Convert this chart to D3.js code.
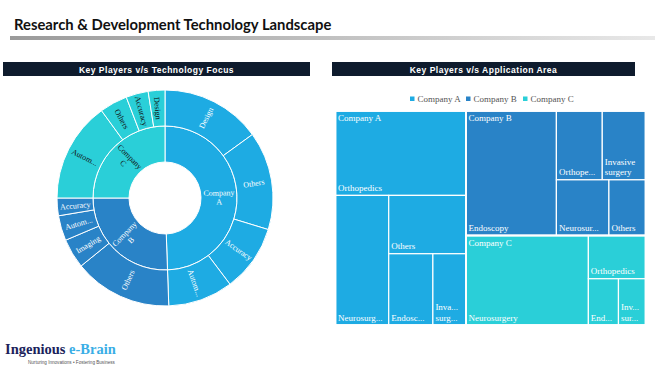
<!DOCTYPE html>
<html>
<head>
<meta charset="utf-8">
<script src="https://cdn.jsdelivr.net/npm/d3@7"></script>
<style>
  body { margin: 0; background: #fff; }
</style>
</head>
<body>
<div id="chart"></div>
<script>
// ---------------------------------------------------------------
// data
var companies = ["Company A", "Company B", "Company C"];
var companyColors = ["#1eabe3", "#2983c7", "#2acfd8"];

// sunburst: technology focus per company (share of the ring)
var techNamesA = ["Design", "Others", "Accuracy", "Automation"];
var techShareA = [54, 53, 36, 35];
var techNamesB = ["Others", "Imaging", "Automation", "Accuracy"];
var techShareB = [53, 16, 13.5, 9.5];
var techNamesC = ["Automation", "Others", "Accuracy", "Design"];
var techShareC = [54, 15, 12, 9];

// treemap: application area per company
var appNamesA = ["Orthopedics", "Neurosurgery", "Others", "Endoscopy", "Invasive surgery"];
var appValuesA = [10920, 6840, 4470, 3120, 2340];
var appNamesB = ["Endoscopy", "Orthopedics", "Invasive surgery", "Neurosurgery", "Others"];
var appValuesB = [11160, 3130, 2950, 2900, 2020];
var appNamesC = ["Neurosurgery", "Orthopedics", "Endoscopy", "Invasive surgery"];
var appValuesC = [10860, 2450, 1380, 1240];

// ---------------------------------------------------------------
var svgWidth = 655;
var svgHeight = 369;

var svg = d3.select("#chart")
    .append("svg")
    .attr("width", svgWidth)
    .attr("height", svgHeight)
    .style("display", "block");

var serif = "'Liberation Serif', 'Times New Roman', serif";

// text measuring for truncation
var measureCtx = document.createElement("canvas").getContext("2d");
function textWidth(s, size) {
    measureCtx.font = size + "px " + serif;
    return measureCtx.measureText(s).width;
}
function truncate(s, maxW, size) {
    if (textWidth(s, size) <= maxW) return s;
    var t = s;
    while (t.length > 1 && textWidth(t + "...", size) > maxW) t = t.slice(0, -1);
    return t + "...";
}
function fitLines(name, maxW, size) {
    if (textWidth(name, size) <= maxW) return [name];
    return name.split(" ").map(w => truncate(w, maxW, size));
}

// ---------------------------------------------------------------
// page title
svg.append("text")
    .attr("x", 14)
    .attr("y", 30)
    .style("font", "bold 14.8px Lato, 'Open Sans', sans-serif")
    .attr("fill", "#111")
    .text("Research & Development Technology Landscape");

var grad = svg.append("defs").append("linearGradient")
    .attr("id", "titleLine");
grad.append("stop").attr("offset", "0%").attr("stop-color", "#9a9a9a");
grad.append("stop").attr("offset", "100%").attr("stop-color", "#e8e8e8");

svg.append("rect")
    .attr("x", 10).attr("y", 36)
    .attr("width", 645).attr("height", 4)
    .attr("fill", "url(#titleLine)");

// panel headers
var headers = [
    { x: 3, w: 307, label: "Key Players v/s Technology Focus" },
    { x: 332, w: 303, label: "Key Players v/s Application Area" }
];
headers.forEach(function (h) {
    svg.append("rect")
        .attr("x", h.x).attr("y", 62)
        .attr("width", h.w).attr("height", 14)
        .attr("fill", "#0e1b2d");
    svg.append("text")
        .attr("x", h.x + h.w / 2)
        .attr("y", 72.5)
        .attr("text-anchor", "middle")
        .attr("fill", "#fff")
        .style("font", "bold 8.5px 'Liberation Sans', Arial, sans-serif")
        .style("letter-spacing", "0.5px")
        .text(h.label);
});

// ---------------------------------------------------------------
// sunburst
var techNames = [techNamesA, techNamesB, techNamesC];
var techShares = [techShareA, techShareB, techShareC];

var sunData = {
    name: "root",
    children: companies.map((c, i) => ({
        name: c,
        company: i,
        children: techNames[i].map((n, j) => ({ name: n, company: i, value: techShares[i][j] }))
    }))
};

var sunRoot = d3.hierarchy(sunData)
    .sum(d => d.value || 0)
    .sort((a, b) => b.value - a.value);

d3.partition().size([2 * Math.PI, 3])(sunRoot);

var radius = d3.scaleLinear().domain([1, 3]).range([36, 108]);

var arc = d3.arc()
    .startAngle(d => d.x0)
    .endAngle(d => d.x1)
    .innerRadius(d => radius(d.y0))
    .outerRadius(d => radius(d.y1));

var sun = svg.append("g")
    .attr("transform", "translate(165, 198)");

var sunNodes = sunRoot.descendants().filter(d => d.depth > 0);

sun.selectAll("path")
    .data(sunNodes)
    .enter().append("path")
    .attr("d", arc)
    .attr("fill", d => companyColors[d.data.company])
    .attr("stroke", "#fff")
    .attr("stroke-width", 1);

sunNodes.forEach(function (d) {
    var a = (d.x0 + d.x1) / 2;
    var deg = a * 180 / Math.PI;
    var r = radius((d.y0 + d.y1) / 2);
    var rot = deg < 180 ? deg - 90 : deg - 270;
    var maxW = d.depth === 1 ? 32 : 31;
    var lines = fitLines(d.data.name, maxW, 8);
    var t = sun.append("text")
        .attr("transform", "translate(" + (r * Math.sin(a)) + "," + (-r * Math.cos(a)) + ") rotate(" + rot + ")")
        .attr("text-anchor", "middle")
        .attr("dominant-baseline", "central")
        .attr("fill", d.data.company === 2 ? "#111" : "#fff")
        .style("font", "8px " + serif);
    lines.forEach(function (l, i) {
        t.append("tspan")
            .attr("x", 0)
            .attr("y", (i - (lines.length - 1) / 2) * 9)
            .text(l);
    });
});

// ---------------------------------------------------------------
// treemap
var appNames = [appNamesA, appNamesB, appNamesC];
var appValues = [appValuesA, appValuesB, appValuesC];

// legend
var legend = svg.append("g");
var legendX = [410, 466, 523];
companies.forEach(function (c, i) {
    legend.append("rect")
        .attr("x", legendX[i]).attr("y", 96.5)
        .attr("width", 4.5).attr("height", 4.5)
        .attr("fill", companyColors[i]);
    legend.append("text")
        .attr("x", legendX[i] + 7.5).attr("y", 102)
        .attr("fill", "#555")
        .style("font", "9px " + serif)
        .text(c);
});

var treeData = {
    name: "root",
    children: companies.map((c, i) => ({
        name: c,
        company: i,
        children: appNames[i].map((n, j) => ({ name: n, company: i, value: appValues[i][j] }))
    }))
};

var treeRoot = d3.hierarchy(treeData)
    .sum(d => d.value || 0)
    .sort((a, b) => b.value - a.value);

d3.treemap()
    .tile(d3.treemapBinary)
    .size([310, 214])(treeRoot);

var tree = svg.append("g")
    .attr("transform", "translate(335.5, 111)");

tree.selectAll("rect.leaf")
    .data(treeRoot.leaves())
    .enter().append("rect")
    .attr("class", "leaf")
    .attr("x", d => d.x0)
    .attr("y", d => d.y0)
    .attr("width", d => d.x1 - d.x0)
    .attr("height", d => d.y1 - d.y0)
    .attr("fill", d => companyColors[d.data.company])
    .attr("stroke", "#fff")
    .attr("stroke-width", 1.2);

tree.selectAll("rect.group")
    .data(treeRoot.children)
    .enter().append("rect")
    .attr("class", "group")
    .attr("x", d => d.x0)
    .attr("y", d => d.y0)
    .attr("width", d => d.x1 - d.x0)
    .attr("height", d => d.y1 - d.y0)
    .attr("fill", "none")
    .attr("stroke", "#fff")
    .attr("stroke-width", 1.8);

// leaf labels, bottom-left
treeRoot.leaves().forEach(function (d) {
    var w = d.x1 - d.x0;
    var lines = fitLines(d.data.name, w - 8, 9);
    var t = tree.append("text")
        .attr("fill", "#fff")
        .style("font", "9px " + serif);
    lines.forEach(function (l, i) {
        t.append("tspan")
            .attr("x", d.x0 + 2.5)
            .attr("y", d.y1 - 4.5 - (lines.length - 1 - i) * 10.5)
            .text(l);
    });
});

// company labels, top-left
treeRoot.children.forEach(function (d) {
    tree.append("text")
        .attr("x", d.x0 + 2.5)
        .attr("y", d.y0 + 10)
        .attr("fill", "#fff")
        .style("font", "9px " + serif)
        .text(d.data.name);
});

// ---------------------------------------------------------------
// logo
var logo = svg.append("text")
    .attr("x", 5)
    .attr("y", 354)
    .style("font", "bold 14.5px " + serif);
logo.append("tspan").attr("fill", "#1c1f5c").text("Ingenious ");
logo.append("tspan").attr("fill", "#3aaee6").text("e-Brain");

svg.append("text")
    .attr("x", 28)
    .attr("y", 363.5)
    .attr("fill", "#555")
    .style("font", "4.6px 'Liberation Sans', Arial, sans-serif")
    .text("Nurturing Innovations \u2022 Fostering Business");
</script>
</body>
</html>
